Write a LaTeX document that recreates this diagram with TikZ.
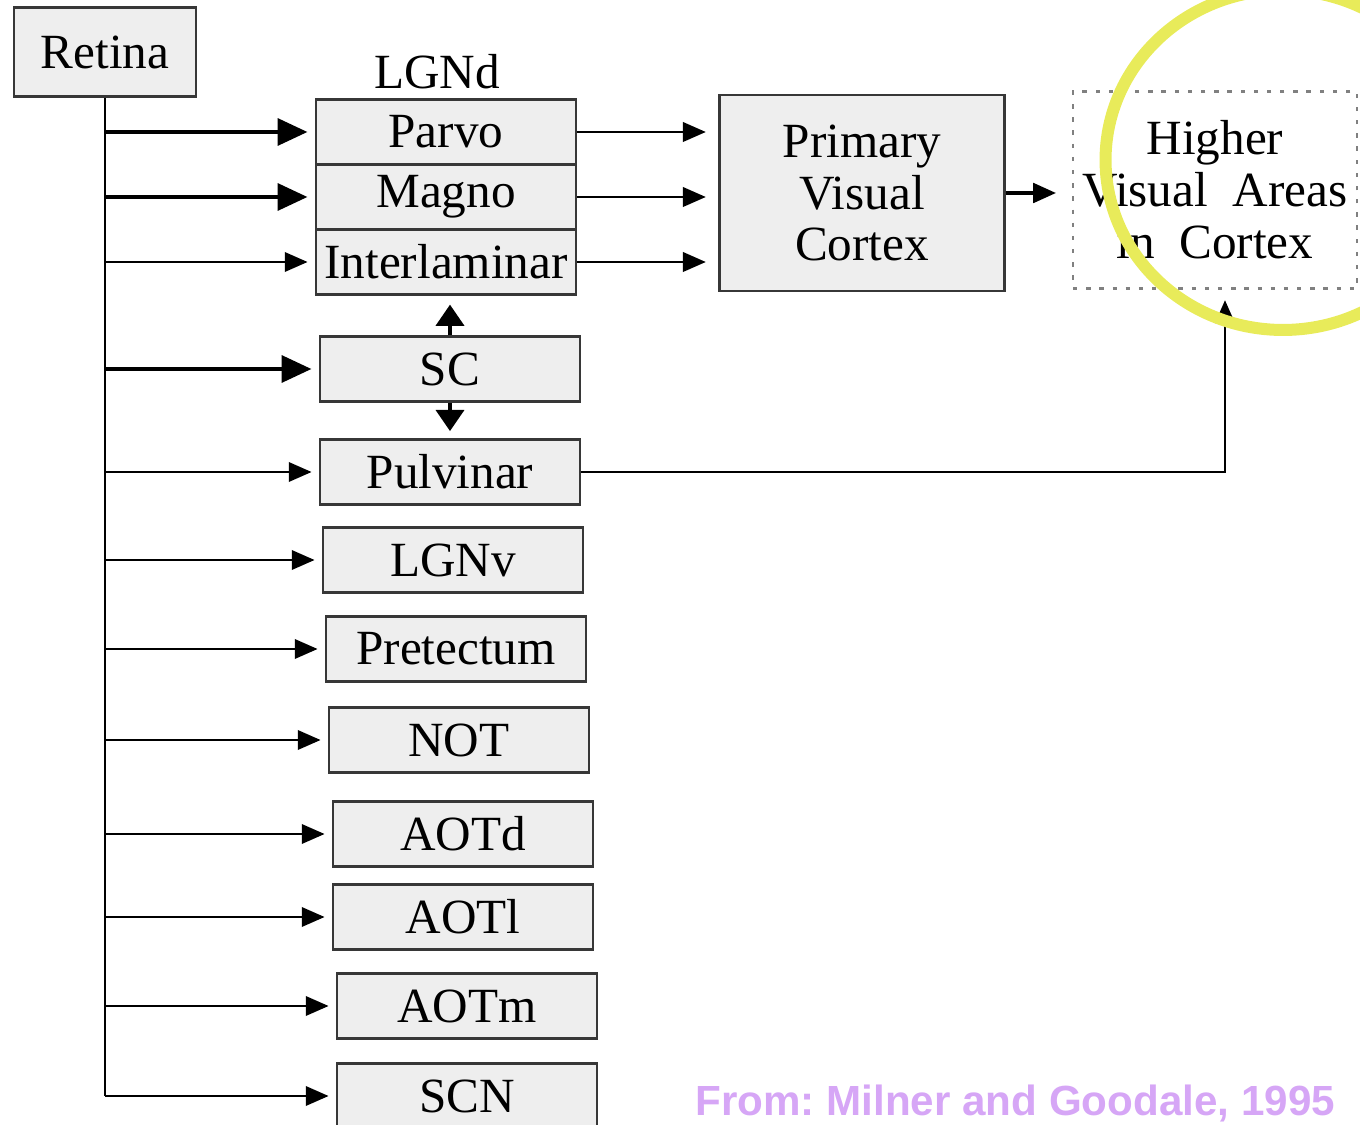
\documentclass[tikz,border=0pt]{standalone}
\usepackage{fontspec}
\setmainfont{Liberation Serif}
\newfontfamily\capfont{Liberation Sans}
\usetikzlibrary{arrows.meta,positioning,calc}
\definecolor{boxgray}{RGB}{238,238,238}
\definecolor{edgegray}{RGB}{55,55,55}
\definecolor{hilite}{RGB}{232,235,90}
\definecolor{credit}{RGB}{214,166,246}
\frenchspacing

\tikzset{
  area/.style={draw=edgegray,fill=boxgray,line width=1.6pt,minimum width=5.2cm,
    minimum height=1.3cm,inner sep=0pt,align=center,font=\fontsize{28}{29.5}\selectfont},
  feed/.style={line width=1.5pt,-{Triangle[length=13pt,width=11pt]},shorten >=4pt},
  bigfeed/.style={feed,line width=2.8pt,-{Triangle[length=17pt,width=15pt]}},
  stubfeed/.style={feed,line width=1.8pt,-{Triangle[length=12pt,width=16pt]}},
  trunk/.style={line width=1.6pt}
}

\begin{document}
\begin{tikzpicture}[x=0.02cm,y=-0.02cm]
  \useasboundingbox (0,0) rectangle (1360,1125);
  \node[area,minimum width=3.64cm,minimum height=1.78cm] (retina) at (105,52) {Retina};
  \node[font=\fontsize{28}{29.5}\selectfont] (lgnd) at (437,72) {LGNd};
  \node[area] (parvo) at (446,132) {Parvo};
  \node[area] (magno) at (446,197) {Magno};
  \node[area] (inter) at (446,262) {Interlaminar};
  \node[area,minimum width=5.7cm,minimum height=3.92cm] (v1) at (862,193) {Primary\\Visual\\Cortex};
  \node[area,fill=none,draw=gray,line width=1.3pt,dash pattern=on 2.5pt off 5pt,
    minimum width=5.68cm,minimum height=3.94cm] (higher) at (1215,190) {Higher\\Visual\ \ Areas\\in\ \ Cortex};
  \node[area] (sc) at (450,369) {SC};
  \node[area] (pulvinar) at (450,472) {Pulvinar};
  \node[area] (lgnv) at (453,560) {LGNv};
  \node[area] (pretectum) at (456,649) {Pretectum};
  \node[area] (not) at (459,740) {NOT};
  \node[area] (aotd) at (463,834) {AOTd};
  \node[area] (aotl) at (463,917) {AOTl};
  \node[area] (aotm) at (467,1006) {AOTm};
  \node[area] (scn) at (467,1096) {SCN};

  % retina fan-out
  \draw[trunk] (retina.south) -- (retina.south |- scn.west);
  \foreach \n in {parvo,magno,sc}
    \draw[bigfeed] (retina.south |- \n.west) -- (\n.west);
  \foreach \n in {inter,pulvinar,lgnv,pretectum,not,aotd,aotl,aotm,scn}
    \draw[feed] (retina.south |- \n.west) -- (\n.west);

  \foreach \n in {parvo,magno,inter}
    \draw[feed,shorten >=7pt] (\n.east) -- (v1.west |- \n.east);
  \draw[feed,line width=2.2pt,shorten >=9pt] (v1.east) -- (higher.west |- v1.east);
  \draw[stubfeed,shorten >=5pt] (sc.north) -- (sc.north |- inter.south);
  \draw[stubfeed] (sc.south) -- (pulvinar.north);
  \draw[feed,shorten >=6pt] (pulvinar.east) -| ([xshift=0.2cm]higher.south);

  \draw[hilite,line width=0.24cm] (1283,160) ellipse [x radius=3.55cm,y radius=3.4cm];
  \node[credit,font=\capfont\bfseries\fontsize{24}{28}\selectfont,anchor=base west,inner sep=0pt]
    (source) at (695,1115) {From: Milner and Goodale, 1995};
\end{tikzpicture}
\end{document}
